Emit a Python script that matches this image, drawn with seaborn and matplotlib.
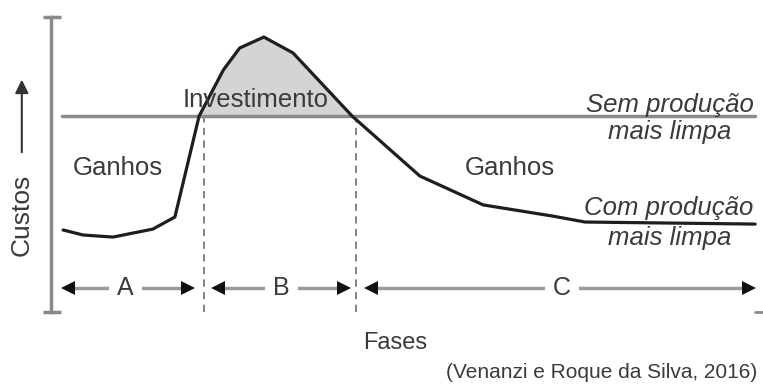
import matplotlib
matplotlib.use("Agg")
import matplotlib.pyplot as plt
import numpy as np
import pandas as pd
import seaborn as sns

# Cost curve "Com produção mais limpa" (phase 0-100, cost 0-100)
phase = [1.7, 4.5, 8.7, 14.3, 17.4, 20.8, 24.2, 26.5, 29.9, 34.0, 42.3, 51.8, 60.7, 70.5, 75.0, 98.9]
cost = [27.8, 26.1, 25.4, 28.1, 32.2, 66.4, 82.0, 89.5, 93.2, 87.8, 66.4, 46.1, 36.3, 32.5, 30.5, 29.8]

# Flat cost "Sem produção mais limpa"
baseline_cost = 66.4
baseline_span = [1.5, 98.9]

# Phase boundaries and labels
phase_bounds = [21.5, 42.8]
phase_names = ["A", "B", "C"]
phase_tips = [(1.5, 20.2), (22.6, 42.0), (44.1, 98.9)]
phase_label_x = [10.5, 32.4, 71.8]

TXT = "#3a3a3a"
GREY = "#8a8a8a"

sns.set_theme(style="white")
plt.rcParams["font.family"] = ["Liberation Sans", "DejaVu Sans"]

fig = plt.figure(figsize=(7.63, 3.90), dpi=100)
ax = fig.add_axes([51 / 763, 78 / 390, 712 / 763, 295 / 390])
ax.set_xlim(0, 100)
ax.set_ylim(0, 100)
ax.set_xticks([])
ax.set_yticks([])
for side in ["top", "right", "bottom"]:
    ax.spines[side].set_visible(False)
ax.spines["left"].set_color(GREY)
ax.spines["left"].set_linewidth(2.5)
ax.set_facecolor("white")

# axis caps
for yy in (0, 100):
    ax.plot([-1.1, 1.4], [yy, yy], color=GREY, lw=2.5, clip_on=False, solid_capstyle="butt")
ax.plot([98.9, 100], [0, 0], color=GREY, lw=2, clip_on=False)

# flat line
ax.plot(baseline_span, [baseline_cost] * 2, color=GREY, lw=2.5, zorder=2)

# shaded investment area
px = np.array(phase)
py = np.array(cost)
ax.fill_between(px, py, baseline_cost, where=(px >= 20.8) & (px <= 42.3),
                interpolate=True, color="#d4d4d4", zorder=1, lw=0)

df = pd.DataFrame({"fase": phase, "custo": cost})
sns.lineplot(data=df, x="fase", y="custo", sort=False, estimator=None,
             color="#1e1e1e", lw=2.3, ax=ax, zorder=3)
ax.set_xlabel("")
ax.set_ylabel("")

# dashed phase boundaries
for xb in phase_bounds:
    ax.plot([xb, xb], [0, baseline_cost], color="#7a7a7a", lw=1.3,
            ls=(0, (4, 3)), zorder=1)

# phase arrows
arrow_y = 8.1
for name, (x0, x1), xl in zip(phase_names, phase_tips, phase_label_x):
    ax.plot([x0 + 1, x1 - 1], [arrow_y, arrow_y], color="#9a9a9a", lw=2.5, zorder=2)
    ax.plot([x0 + 0.9], [arrow_y], marker="<", color="#111", ms=10, mew=0, zorder=4)
    ax.plot([x1 - 0.9], [arrow_y], marker=">", color="#111", ms=10, mew=0, zorder=4)
    ax.text(xl, arrow_y, name, ha="center", va="center", fontsize=18, color=TXT,
            zorder=5, bbox=dict(facecolor="white", edgecolor="none", pad=6))

# texts inside
ax.text(9.4, 48.8, "Ganhos", ha="center", va="center", fontsize=18.5, color=TXT)
ax.text(64.5, 48.8, "Ganhos", ha="center", va="center", fontsize=18.5, color=TXT)
ax.text(28.8, 71.9, "Investimento", ha="center", va="center", fontsize=18.5, color=TXT, zorder=4)

ax.text(98.7, 70.2, "Sem produção", ha="right", va="center", fontsize=18.5,
        style="italic", color=TXT)
ax.text(86.9, 61.0, "mais limpa", ha="center", va="center", fontsize=18.5,
        style="italic", color=TXT)
ax.text(98.7, 35.3, "Com produção", ha="right", va="center", fontsize=18.5,
        style="italic", color=TXT)
ax.text(86.9, 25.0, "mais limpa", ha="center", va="center", fontsize=18.5,
        style="italic", color=TXT)

# y label with arrow
ax.text(-4.1, 32.9, "Custos", rotation=90, ha="center", va="center",
        fontsize=19, color=TXT, clip_on=False)
ax.annotate("", xy=(-4.1, 79.7), xytext=(-4.1, 53.2), xycoords="data",
            arrowprops=dict(arrowstyle="-|>", color="#333", lw=1.5, mutation_scale=20),
            annotation_clip=False)

fig.text(395 / 763, 1 - 343 / 390, "Fases", ha="center", va="center",
         fontsize=17, color=TXT)
fig.text(757 / 763, 1 - 373 / 390, "(Venanzi e Roque da Silva, 2016)",
         ha="right", va="center", fontsize=15, color=TXT)

fig.savefig("out.png", dpi=100, facecolor="white")
